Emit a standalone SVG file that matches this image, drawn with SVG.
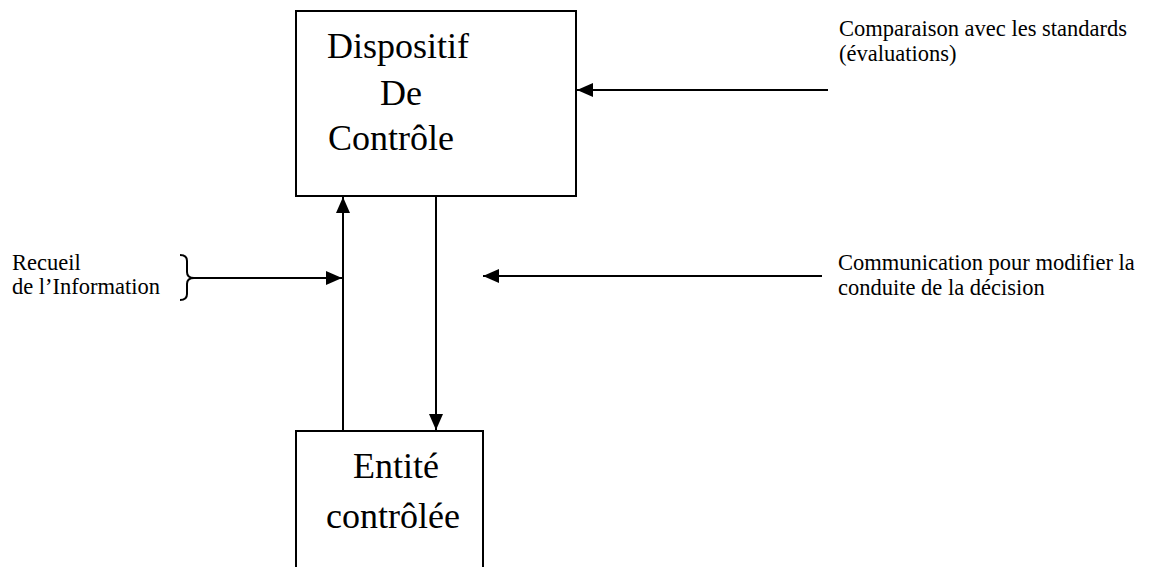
<svg xmlns="http://www.w3.org/2000/svg" width="1152" height="567" viewBox="0 0 1152 567">
  <style>
    text { font-family: "Liberation Serif", "Times New Roman", serif; fill: #000; }
    .big { font-size: 36px; }
    .small { font-size: 22.5px; }
    .box { fill: #fff; stroke: #000; stroke-width: 2; }
    .line { fill: none; stroke: #000; stroke-width: 2; }
  </style>
  <defs>
    <marker id="arrow" viewBox="0 0 16 14" refX="16" refY="7" markerWidth="16" markerHeight="14" markerUnits="userSpaceOnUse" orient="auto">
      <path d="M0,0 L16,7 L0,14 Z" fill="#000"/>
    </marker>
  </defs>
  <rect width="1152" height="567" fill="#fff"/>

  <g id="dispositif">
    <rect class="box" x="296" y="11" width="280" height="185"/>
    <text class="big" x="327" y="58">Dispositif</text>
    <text class="big" x="380" y="105">De</text>
    <text class="big" x="328" y="150">Contrôle</text>
  </g>

  <g id="entite">
    <rect class="box" x="296" y="431" width="187" height="150"/>
    <text class="big" x="353" y="478">Entité</text>
    <text class="big" x="326" y="528">contrôlée</text>
  </g>

  <g id="recueil">
    <text class="small" x="12" y="270">Recueil</text>
    <text class="small" x="12" y="294">de l’Information</text>
    <path class="line" d="M180,255 Q187,255 187,261 L187,272 Q187,278 194,278 Q187,278 187,284 L187,294 Q187,300 180,300"/>
  </g>

  <g id="comparaison">
    <text class="small" x="839" y="36">Comparaison avec les standards</text>
    <text class="small" x="839" y="61">(évaluations)</text>
  </g>

  <g id="communication">
    <text class="small" x="838" y="270">Communication pour modifier la</text>
    <text class="small" x="838" y="295">conduite de la décision</text>
  </g>

  <g id="connectors">
    <line class="line" x1="828" y1="90" x2="577" y2="90" marker-end="url(#arrow)"/>
    <line class="line" x1="343" y1="431" x2="343" y2="197" marker-end="url(#arrow)"/>
    <line class="line" x1="436" y1="196" x2="436" y2="430" marker-end="url(#arrow)"/>
    <line class="line" x1="194" y1="278" x2="342" y2="278" marker-end="url(#arrow)"/>
    <line class="line" x1="822" y1="276" x2="483" y2="276" marker-end="url(#arrow)"/>
  </g>
</svg>
